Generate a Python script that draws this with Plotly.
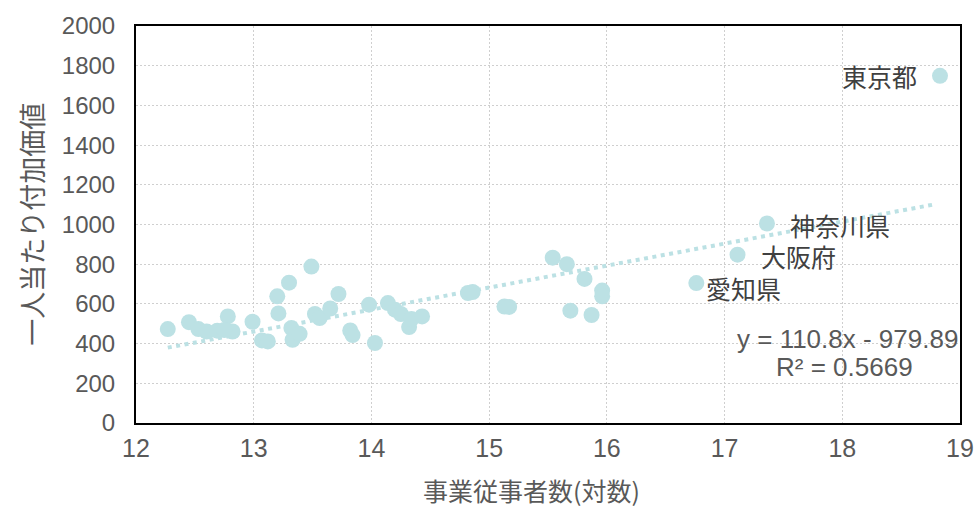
import plotly.graph_objects as go

# Data (x: log of employees, y: value added per person)
x_vals = [12.27, 12.45, 12.53, 12.60, 12.69, 12.78, 12.82, 12.75, 12.99, 13.07,
          13.12, 13.20, 13.21, 13.30, 13.32, 13.33, 13.39, 13.49, 13.52, 13.56,
          13.65, 13.72, 13.82, 13.84, 13.98, 14.03, 14.14, 14.20, 14.25, 14.32,
          14.34, 14.43, 14.82, 14.86, 15.13, 15.17, 15.54, 15.66, 15.69, 15.81,
          15.87, 15.96, 15.96, 16.76, 17.11, 17.36, 18.83]
y_vals = [473, 508, 473, 461, 465, 537, 461, 468, 510, 416,
          411, 638, 552, 707, 478, 419, 449, 788, 549, 529,
          577, 650, 466, 443, 596, 403, 604, 571, 549, 483,
          524, 537, 655, 660, 587, 585, 833, 800, 566, 726,
          544, 667, 638, 705, 848, 1005, 1749]
labels = {"東京都": 46, "神奈川県": 45, "大阪府": 44, "愛知県": 43}
slope, intercept = 110.8, -979.89
x_ticks = [12, 13, 14, 15, 16, 17, 18, 19]
y_ticks = [0, 200, 400, 600, 800, 1000, 1200, 1400, 1600, 1800, 2000]
x_title = "事業従事者数(対数)"
y_title = "一人当たり付加価値"

color = "#BCE1E4"
grey = "#595959"
font_fam = "Liberation Sans, Arial, Noto Sans CJK JP"
cjk = "Noto Sans CJK JP"

fig = go.Figure()
tx = [min(x_vals), 18.78]
fig.add_trace(go.Scatter(
    x=tx, y=[slope * v + intercept for v in tx], mode="lines",
    line=dict(color=color, width=4, dash="4px,4.5px"), hoverinfo="skip"))
fig.add_trace(go.Scatter(
    x=x_vals, y=y_vals, mode="markers",
    marker=dict(color=color, size=16, line=dict(width=0))))

label_cfg = {
    "東京都": dict(xanchor="right", xshift=-21, yshift=0),
    "神奈川県": dict(xanchor="left", xshift=21, yshift=-1),
    "大阪府": dict(xanchor="left", xshift=21, yshift=-1),
    "愛知県": dict(xanchor="left", xshift=8, yshift=-5),
}
for name, idx in labels.items():
    fig.add_annotation(x=x_vals[idx], y=y_vals[idx], text=name, showarrow=False,
                       font=dict(size=25, color="#404040", family=cjk),
                       **label_cfg[name])

fig.add_annotation(xref="paper", yref="paper", x=1.0, y=0.2116, xanchor="right",
                   yanchor="middle", text="y = 110.8x - 979.89", showarrow=False,
                   font=dict(size=26, color=grey, family=font_fam))
fig.add_annotation(xref="paper", yref="paper", x=0.945, y=0.141, xanchor="right",
                   yanchor="middle", text="R² = 0.5669", showarrow=False,
                   font=dict(size=26, color=grey, family=font_fam))

# axis titles
fig.add_annotation(xref="paper", yref="paper", x=0.5, xshift=-17, y=-0.169,
                   xanchor="center", yanchor="middle", text=x_title, showarrow=False,
                   font=dict(size=25, color=grey, family=cjk))
fig.add_annotation(xref="paper", yref="paper", x=-0.127, y=0.5, textangle=-90,
                   xanchor="center", yanchor="middle", text=y_title, showarrow=False,
                   font=dict(size=27, color=grey, family=cjk))

axis_common = dict(showline=True, linecolor="black", linewidth=2, mirror=True,
                   showgrid=True, gridcolor="#CFCFCF", griddash="2px,2px", gridwidth=1,
                   zeroline=False, ticks="")
fig.update_xaxes(range=[12, 19], tickvals=x_ticks, ticklabelstandoff=2,
                 tickfont=dict(size=25, color=grey, family=font_fam), **axis_common)
fig.update_yaxes(range=[0, 2000], tickvals=y_ticks, ticklabelstandoff=14,
                 tickfont=dict(size=24, color=grey, family=font_fam), **axis_common)
fig.update_layout(width=977, height=509, showlegend=False,
                  plot_bgcolor="white", paper_bgcolor="white",
                  margin=dict(l=136, r=17, t=26, b=86, autoexpand=False),
                  font=dict(family=font_fam))
fig.write_html("out.html", config={"displayModeBar": False},
               post_script="document.body.style.margin='0';")
